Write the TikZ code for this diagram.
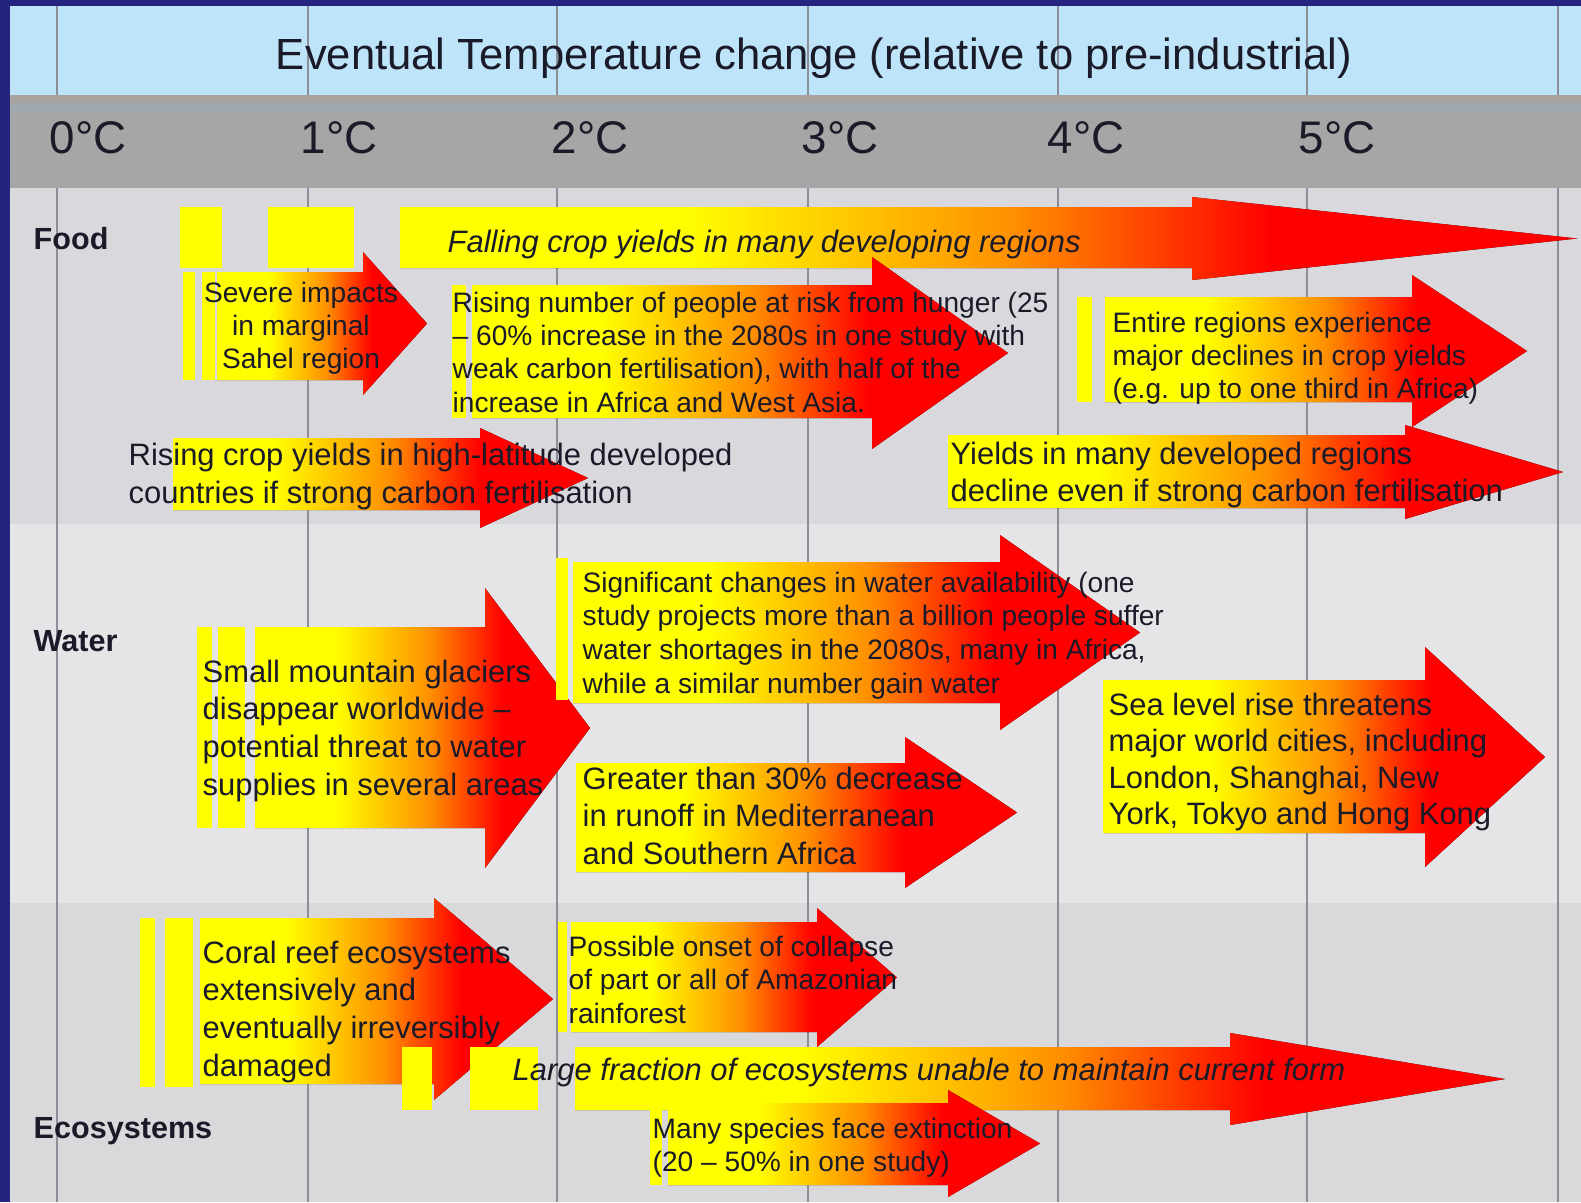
\documentclass[tikz,border=0pt]{standalone}
\usepackage{fontspec}
\setmainfont{Liberation Sans}
\definecolor{frame}{HTML}{24247F}
\definecolor{skyband}{HTML}{BEE4FA}
\definecolor{greyband}{HTML}{A6A6A6}
\definecolor{greyedge}{HTML}{A9A29E}
\definecolor{greyblue}{HTML}{A0A8B0}
\definecolor{foodbg}{HTML}{D9D9DD}
\definecolor{waterbg}{HTML}{E5E5E8}
\definecolor{ecobg}{HTML}{D9D9DB}
\definecolor{gridc}{HTML}{8E8E98}
\definecolor{ink}{HTML}{1A1A28}
\definecolor{hotyellow}{HTML}{FFFF00}
\definecolor{hotorange}{HTML}{FF9000}
\definecolor{hotred}{HTML}{FF0000}
\pgfdeclarehorizontalshading{heat}{100bp}{color(0bp)=(hotyellow); color(25bp)=(hotyellow); color(37bp)=(hotyellow); color(51bp)=(hotorange); color(62bp)=(hotred); color(100bp)=(hotred)}
% arrow: x0, top, bottom, head base, head top, head bottom, tip
\newcommand{\heatarrow}[7]{%
  \fill[shading=heat] (#1,#2) -- (#4,#2) -- (#4,#5) -- (#7,{(#5+#6)/2}) -- (#4,#6) -- (#4,#3) -- (#1,#3) -- cycle;}
\begin{document}
\begin{tikzpicture}[x=0.01cm, y=-0.01cm,
    txt/.style={anchor=north west, inner sep=0pt, align=left, text=ink, font=\fontsize{8}{9.5}\selectfont},
    bigtxt/.style={txt, font=\fontsize{8.8}{10.7}\selectfont},
    rowlabel/.style={anchor=west, inner sep=0pt, text=ink, font=\fontsize{8.7}{10}\selectfont\bfseries},
    degree/.style={inner sep=0pt, text=ink, font=\fontsize{13}{15}\selectfont},
    gridline/.style={draw=gridc, line width=0.6pt},
    bar/.style={fill=hotyellow}
]
    \useasboundingbox (0,0) rectangle (1581,1202);
    % bands
    \fill[frame] (0,0) rectangle (1581,1202);
    \fill[skyband] (10,6) rectangle (1581,95);
    \fill[greyedge] (10,95) rectangle (1581,103);
    \fill[greyblue] (10,103) rectangle (1581,111);
    \fill[greyband] (10,111) rectangle (1581,188);
    \fill[foodbg] (10,188) rectangle (1581,524);
    \fill[waterbg] (10,524) rectangle (1581,903);
    \fill[ecobg] (10,903) rectangle (1581,1202);

    % grid
    \draw[gridline] (57,6) -- (57,95) (57,188) -- (57,1202);
    \draw[gridline] (308,6) -- (308,95) (308,188) -- (308,1202);
    \draw[gridline] (557,6) -- (557,95) (557,188) -- (557,1202);
    \draw[gridline] (808,6) -- (808,95) (808,188) -- (808,1202);
    \draw[gridline] (1058,6) -- (1058,95) (1058,188) -- (1058,1202);
    \draw[gridline] (1307,6) -- (1307,95) (1307,188) -- (1307,1202);
    \draw[gridline] (1558,6) -- (1558,95) (1558,188) -- (1558,1202);

    % header
    \node[inner sep=0pt, text=ink, font=\fontsize{12.4}{14}\selectfont] (title) at (814,58) {Eventual Temperature change (relative to pre-industrial)};
    \node[degree] (d0) at (88,138) {0°C};
    \node[degree] (d1) at (339,138) {1°C};
    \node[degree] (d2) at (590,138) {2°C};
    \node[degree] (d3) at (840,138) {3°C};
    \node[degree] (d4) at (1086,138) {4°C};
    \node[degree] (d5) at (1337,138) {5°C};

    % row labels
    \node[rowlabel] (food) at (33,239) {Food};
    \node[rowlabel] (water) at (33,641) {Water};
    \node[rowlabel] (eco) at (33,1131) {Ecosystems};

    % food
    \fill[bar] (180,207) rectangle (222,268);
    \fill[bar] (268,207) rectangle (354,268);
    \heatarrow{400}{207}{268}{1192}{197}{280}{1577}
    \node[txt, font=\fontsize{8.8}{10.7}\selectfont\itshape] (falling) at (447,229) {Falling crop yields in many developing regions};

    \fill[bar] (183,272) rectangle (195,380);
    \fill[bar] (202,272) rectangle (215,380);
    \heatarrow{217}{272}{380}{363}{252}{395}{427}
    \node[txt, anchor=north, align=center] (sahel) at (301,281) {Severe impacts\\in marginal\\Sahel region};

    \fill[bar] (452,285) rectangle (466,418);
    \heatarrow{472}{285}{418}{872}{257}{449}{1008}
    \node[txt] (hunger) at (452,291) {Rising number of people at risk from hunger (25\\-- 60\% increase in the 2080s in one study with\\weak carbon fertilisation), with half of the\\increase in Africa and West Asia.};

    \fill[bar] (1077,297) rectangle (1092,402);
    \heatarrow{1105}{297}{402}{1412}{275}{427}{1527}
    \node[txt] (regions) at (1112,311) {Entire regions experience\\major declines in crop yields\\(e.g. up to one third in Africa)};

    \heatarrow{173}{438}{510}{480}{428}{528}{588}
    \node[txt, font=\fontsize{8.8}{11}\selectfont] (highlat) at (128,442) {Rising crop yields in high-latitude developed\\countries if strong carbon fertilisation};

    \heatarrow{948}{435}{508}{1405}{425}{519}{1563}
    \node[bigtxt] (developed) at (950,441) {Yields in many developed regions\\decline even if strong carbon fertilisation};

    % water
    \fill[bar] (197,627) rectangle (212,828);
    \fill[bar] (218,627) rectangle (245,828);
    \heatarrow{255}{627}{828}{485}{588}{868}{590}
    \node[bigtxt] (glaciers) at (202,659) {Small mountain glaciers\\disappear worldwide --\\potential threat to water\\supplies in several areas};

    \fill[bar] (556,558) rectangle (568,700);
    \heatarrow{573}{562}{703}{1000}{535}{730}{1140}
    \node[txt, font=\fontsize{8}{9.6}\selectfont] (availability) at (582,571) {Significant changes in water availability (one\\study projects more than a billion people suffer\\water shortages in the 2080s, many in Africa,\\while a similar number gain water};

    \heatarrow{576}{763}{872}{905}{737}{888}{1017}
    \node[bigtxt] (runoff) at (582,766) {Greater than 30\% decrease\\in runoff in Mediterranean\\and Southern Africa};

    \heatarrow{1103}{680}{833}{1425}{647}{867}{1545}
    \node[bigtxt, font=\fontsize{8.8}{10.4}\selectfont] (sealevel) at (1108,692) {Sea level rise threatens\\major world cities, including\\London, Shanghai, New\\York, Tokyo and Hong Kong};

    % ecosystems
    \fill[bar] (140,918) rectangle (155,1087);
    \fill[bar] (165,918) rectangle (193,1087);
    \heatarrow{200}{918}{1084}{434}{898}{1100}{553}
    \node[bigtxt] (coral) at (202,940) {Coral reef ecosystems\\extensively and\\eventually irreversibly\\damaged};

    \fill[bar] (558,922) rectangle (567,1032);
    \heatarrow{571}{922}{1032}{817}{908}{1047}{897}
    \node[txt, font=\fontsize{8}{9.6}\selectfont] (amazon) at (568,935) {Possible onset of collapse\\of part or all of Amazonian\\rainforest};

    \fill[bar] (402,1047) rectangle (432,1110);
    \fill[bar] (470,1047) rectangle (538,1110);
    \heatarrow{575}{1047}{1110}{1230}{1033}{1125}{1505}
    \node[txt, font=\fontsize{8.8}{10.7}\selectfont\itshape] (fraction) at (512,1057) {Large fraction of ecosystems unable to maintain current form};

    \fill[bar] (650,1103) rectangle (662,1185);
    \heatarrow{668}{1103}{1185}{948}{1090}{1197}{1040}
    \node[txt, font=\fontsize{8}{9.4}\selectfont] (species) at (652,1117) {Many species face extinction\\(20 -- 50\% in one study)};
\end{tikzpicture}
\end{document}
